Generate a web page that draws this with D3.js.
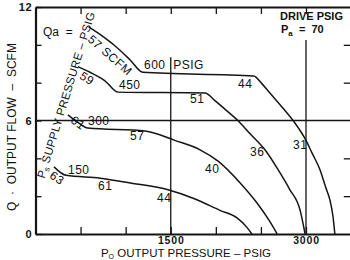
<!DOCTYPE html>
<html>
<head>
<meta charset="utf-8">
<script src="https://cdn.jsdelivr.net/npm/d3@7"></script>
<style>
	html, body { margin: 0; padding: 0; background: #fff; }
	svg { display: block; font-family: "Liberation Sans", Arial, Helvetica, sans-serif; }
	text { fill: #111; white-space: pre; }
</style>
</head>
<body>
<svg id="chart"></svg>
<script>

// output pressure (psig) vs output flow (scfm), one curve per supply pressure
var supply600 = [[590,10.95],[715,10.55],[880,9.95],[1050,9.2],[1190,8.55],[2420,8.35],[2510,7.95],[2600,7.45],[2745,6.65],[2865,5.95],[3000,4.95],[3065,4.3],[3155,3.4],[3220,2.45],[3265,1.8],[3300,0.9],[3320,0]];
var supply450 = [[470,8.85],[605,8.55],[770,8.1],[915,7.5],[1880,7.45],[1990,7.05],[2100,6.6],[2255,5.95],[2380,5.3],[2545,4.45],[2690,3.4],[2820,2.35],[2935,1.25],[2990,0]];
var supply300 = [[360,6.3],[470,5.9],[580,5.6],[1215,5.45],[1545,4.95],[1825,4.45],[2025,3.85],[2270,2.7],[2455,1.65],[2600,0.65],[2680,0]];
var supply150 = [[205,3.55],[340,3.1],[715,2.95],[1050,2.7],[1460,2.35],[1770,1.85],[2045,1.25],[2235,0.85],[2345,0.35],[2400,0]];

var curves = [supply600, supply450, supply300, supply150];

// axis ticks
var xTicks = [500, 1000, 1500, 2000, 2500, 3000];
var xTickLabels = [1500, 3000];
var yTicks = [0, 2, 4, 6, 8, 10, 12];
var yTickLabels = [0, 6, 12];

// air consumption Qa along the curves: [psig, scfm, text, angle]
var flowLabels = [
	[826, 9.45, "57 SCFM", 41],
	[571, 8.22, "59", 33],
	[471, 5.87, "61", 35],
	[238, 2.96, "63", 35]
];
var plainLabels = [
	[1203, 8.72, "600  PSIG"],
	[2246, 7.72, "44"],
	[926, 7.66, "450"],
	[1713, 6.92, "51"],
	[582, 5.76, "300"],
	[1048, 4.97, "57"],
	[2379, 4.12, "36"],
	[2856, 4.49, "31"],
	[1880, 3.22, "40"],
	[360, 3.17, "150"],
	[693, 2.33, "61"],
	[1347, 1.69, "44"]
];

var width = 350,
	height = 260;

var svg = d3.select("#chart")
	.attr("width", width)
	.attr("height", height);

var xMax = 3530;

var x = d3.scaleLinear()
	.domain([0, xMax])
	.range([35.5, 35.5 + xMax * 270.5 / 3000]);

var y = d3.scaleLinear()
	.domain([0, 12])
	.range([234, 7]);

var ink = "#151515";

// grid lines
svg.append("line")
	.attr("x1", x(0)).attr("x2", x(xMax))
	.attr("y1", y(6)).attr("y2", y(6))
	.style("stroke", ink).style("stroke-width", 1.3);

svg.append("line")
	.attr("x1", x(1500)).attr("x2", x(1500))
	.attr("y1", y(9.35)).attr("y2", y(0))
	.style("stroke", ink).style("stroke-width", 1.3);

svg.append("line")
	.attr("x1", x(3000)).attr("x2", x(3000))
	.attr("y1", y(10.25)).attr("y2", y(0))
	.style("stroke", ink).style("stroke-width", 1.3);

// axes
var fmtX = function(d) { return xTickLabels.indexOf(d) >= 0 ? d : ""; };
var fmtY = function(d) { return yTickLabels.indexOf(d) >= 0 ? d : ""; };

svg.append("g")
	.attr("class", "axis xaxis")
	.attr("transform", "translate(0," + y(0) + ")")
	.call(d3.axisBottom(x).tickValues(xTicks).tickSizeInner(-7).tickSizeOuter(0).tickPadding(2.5).tickFormat(fmtX));

svg.append("g")
	.attr("class", "axis")
	.attr("transform", "translate(0," + y(12) + ")")
	.call(d3.axisTop(x).tickValues(xTicks).tickSizeInner(-7).tickSizeOuter(0).tickFormat(""));

svg.append("g")
	.attr("class", "axis")
	.attr("transform", "translate(" + x(0) + ",0)")
	.call(d3.axisLeft(y).tickValues(yTicks).tickSizeInner(-6).tickSizeOuter(0).tickPadding(3).tickFormat(fmtY));

svg.append("g")
	.attr("class", "axis")
	.attr("transform", "translate(" + x(xMax) + ",0)")
	.call(d3.axisRight(y).tickValues([2, 4, 8, 10]).tickSizeInner(-10).tickSizeOuter(0).tickFormat(""));

svg.selectAll(".axis path")
	.style("stroke", ink)
	.style("stroke-width", 2.2);

svg.selectAll(".axis line")
	.style("stroke", ink)
	.style("stroke-width", 1.3);

svg.selectAll(".axis text")
	.style("font-family", "'Liberation Sans', Arial, Helvetica")
	.style("font-size", "11px")
	.style("font-weight", "bold")
	.style("letter-spacing", "0.8px")
	.style("fill", ink);

svg.selectAll(".xaxis text")
	.style("font-size", "10.5px");

// curves
var line = d3.line()
	.x(function(d) { return x(d[0]); })
	.y(function(d) { return y(d[1]); })
	.curve(d3.curveMonotoneX);

svg.selectAll("path.curve")
	.data(curves)
	.enter().append("path")
	.attr("class", "curve")
	.attr("d", line)
	.style("fill", "none")
	.style("stroke", ink)
	.style("stroke-width", 1.5);

// labels on the curves
svg.selectAll("text.flow")
	.data(flowLabels)
	.enter().append("text")
	.attr("class", "flow")
	.attr("transform", function(d) { return "translate(" + x(d[0]) + "," + y(d[1]) + ") rotate(" + d[3] + ")"; })
	.attr("text-anchor", "middle")
	.attr("dominant-baseline", "central")
	.style("font-size", "12px")
	.style("letter-spacing", "0.5px")
	.text(function(d) { return d[2]; });

svg.selectAll("text.plain")
	.data(plainLabels)
	.enter().append("text")
	.attr("class", "plain")
	.attr("x", function(d) { return x(d[0]); })
	.attr("y", function(d) { return y(d[1]); })
	.style("font-size", "12px")
	.style("letter-spacing", "0.5px")
	.text(function(d) { return d[2]; });

svg.append("text")
	.attr("x", x(83))
	.attr("y", y(10.47))
	.style("font-size", "12px")
	.text("Qa  =");

// supply pressure label along the start of the curves
var ps = svg.append("text")
	.attr("transform", "translate(" + x(338) + "," + y(7.35) + ") rotate(-73)")
	.attr("text-anchor", "middle")
	.attr("dominant-baseline", "central")
	.style("font-size", "11.5px")
	.style("letter-spacing", "0.3px");
ps.append("tspan").text("P");
ps.append("tspan").attr("dy", 3).style("font-size", "8px").text("s");
ps.append("tspan").attr("dy", -3).text(" SUPPLY PRESSURE – PSIG");

// axis titles
var xt = svg.append("text")
	.attr("x", 186)
	.attr("y", 257)
	.attr("text-anchor", "middle")
	.style("font-size", "11.5px");
xt.append("tspan").text("P");
xt.append("tspan").attr("dy", 1.5).style("font-size", "7px").text("O");
xt.append("tspan").attr("dy", -1.5).text(" OUTPUT PRESSURE – PSIG");

svg.append("text")
	.attr("transform", "translate(12,127) rotate(-90)")
	.attr("text-anchor", "middle")
	.attr("dominant-baseline", "central")
	.style("font-size", "12px")
	.text("Q  ·  OUTPUT FLOW  –  SCFM");

// legend
svg.append("text")
	.attr("x", 280)
	.attr("y", 20)
	.style("font-size", "11px")
	.style("font-weight", "bold")
	.text("DRIVE PSIG");

var pa = svg.append("text")
	.attr("x", 281)
	.attr("y", 33)
	.style("font-size", "11px")
	.style("font-weight", "bold");
pa.append("tspan").text("P");
pa.append("tspan").attr("dy", 3).style("font-size", "8px").text("a");
pa.append("tspan").attr("dy", -3).text("  =  70");

</script>
</body>
</html>
